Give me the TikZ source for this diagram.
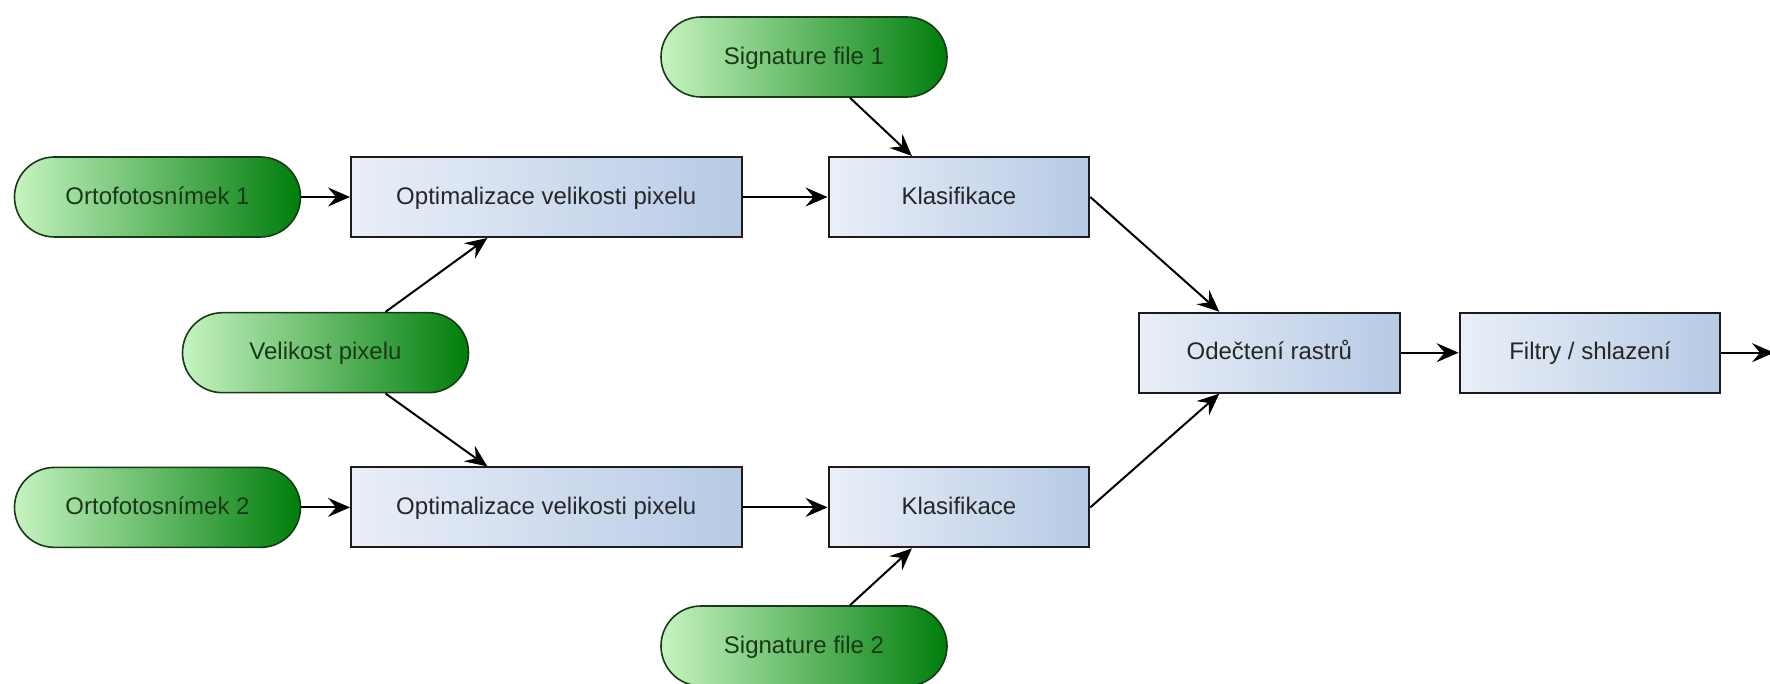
\documentclass[tikz,border=0pt]{standalone}
\usepackage{fontspec}
\setmainfont{Liberation Sans}
\usetikzlibrary{arrows.meta}
\definecolor{pillL}{RGB}{198,244,192}
\definecolor{pillR}{RGB}{0,126,12}
\definecolor{pillB}{RGB}{22,58,22}
\definecolor{pillT}{RGB}{24,56,24}
\definecolor{boxL}{RGB}{234,239,248}
\definecolor{boxR}{RGB}{182,202,229}
\definecolor{boxB}{RGB}{28,28,28}
\definecolor{boxT}{RGB}{38,38,38}
\tikzset{
  pill/.style={draw=pillB, line width=1.6pt, rounded corners=40pt,
    left color=pillL, right color=pillR, minimum width=286pt, minimum height=80pt,
    text=pillT, inner sep=0pt, text height=19.5pt, text depth=5pt},
  procbox/.style={draw=boxB, line width=2pt, left color=boxL, right color=boxR,
    minimum height=80pt, text=boxT, inner sep=0pt, text height=19.5pt, text depth=5pt},
  conn/.style={line width=2pt, draw=black, -{Stealth[length=22pt,width=19pt,inset=8pt]}}
}
\begin{document}
\begin{tikzpicture}[x=1pt,y=-1pt,font=\fontsize{24}{28}\selectfont]
\useasboundingbox (0,0) rectangle (1770,684);
% pills
\node[pill] (sig1) at (804,57) {Signature file 1};
\node[pill] (orto1) at (157.5,197) {Ortofotosnímek 1};
\node[pill] (vel) at (325.5,352.7) {Velikost pixelu};
\node[pill] (orto2) at (157.5,507.4) {Ortofotosnímek 2};
\node[pill] (sig2) at (804,646) {Signature file 2};
% boxes
\node[procbox, minimum width=390.6pt] (opt1) at (546.3,197) {Optimalizace velikosti pixelu};
\node[procbox, minimum width=260.8pt] (klas1) at (958.9,197) {Klasifikace};
\node[procbox, minimum width=390.6pt] (opt2) at (546.3,507.4) {Optimalizace velikosti pixelu};
\node[procbox, minimum width=260.8pt] (klas2) at (958.9,507.4) {Klasifikace};
\node[procbox, minimum width=260.8pt] (ode) at (1269.3,352.7) {Odečtení rastrů};
\node[procbox, minimum width=260.8pt] (filt) at (1590,352.7) {Filtry / shlazení};
\coordinate (out) at (1774,352.7);
% connectors
\draw[conn] (orto1) -- (opt1);
\draw[conn] (opt1) -- (klas1);
\draw[conn] (orto2) -- (opt2);
\draw[conn] (opt2) -- (klas2);
\draw[conn] ([xshift=60pt]vel.north) -- ([xshift=-59pt]opt1.south);
\draw[conn] ([xshift=60pt]vel.south) -- ([xshift=-59pt]opt2.north);
\draw[conn] ([xshift=46pt]sig1.south) -- ([xshift=-47pt]klas1.north);
\draw[conn] ([xshift=46pt]sig2.north) -- ([xshift=-47pt]klas2.south);
\draw[conn] (klas1.east) -- ([xshift=-50pt]ode.north);
\draw[conn] (klas2.east) -- ([xshift=-50pt]ode.south);
\draw[conn] (ode) -- (filt);
\draw[conn] (filt) -- (out);
\end{tikzpicture}
\end{document}
